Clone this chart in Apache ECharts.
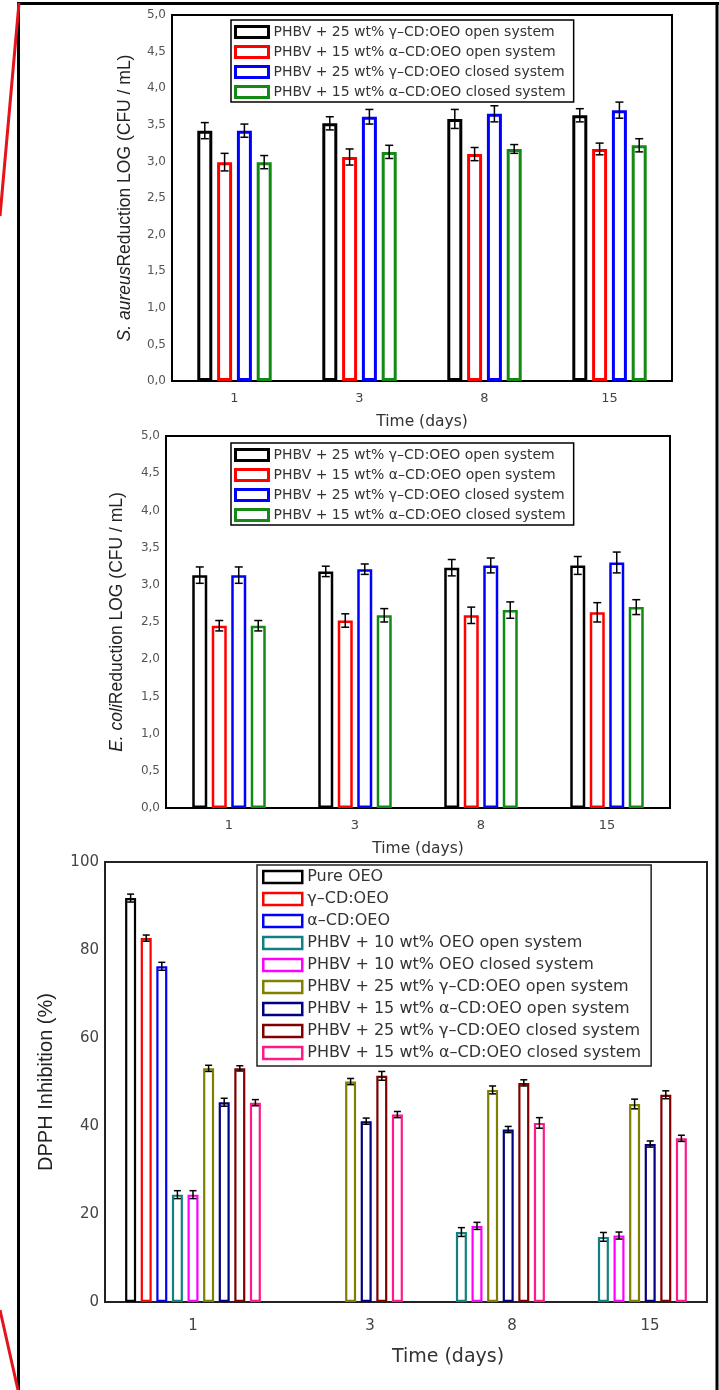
<!DOCTYPE html>
<html>
<head>
<meta charset="utf-8">
<script src="https://cdn.jsdelivr.net/npm/echarts@6/dist/echarts.min.js"></script>
<style>
  html, body { margin: 0; padding: 0; background: #fff; }
  #page { position: relative; width: 719px; height: 1390px; overflow: hidden; }
  .layer { position: absolute; left: 0; top: 0; width: 719px; height: 1390px; }
</style>
</head>
<body>
<div id="page">
  <svg class="layer" width="719" height="1390">
    <line x1="18.5" y1="2" x2="18.5" y2="1390" stroke="#000" stroke-width="3"/>
    <line x1="17" y1="3.5" x2="719" y2="3.5" stroke="#000" stroke-width="3"/>
    <line x1="717" y1="2" x2="717" y2="1390" stroke="#000" stroke-width="3"/>
    <line x1="19" y1="3" x2="0" y2="216" stroke="#e5141b" stroke-width="3"/>
    <line x1="0" y1="1310" x2="18" y2="1390" stroke="#e5141b" stroke-width="3"/>
  </svg>
  <div id="c1" class="layer"></div>
  <div id="c2" class="layer"></div>
  <div id="c3" class="layer"></div>
</div>
<script>
// ---- data ----
const days = ['1', '3', '8', '15'];

const bactNames = [
  'PHBV + 25 wt% γ–CD:OEO open system',
  'PHBV + 15 wt% α–CD:OEO open system',
  'PHBV + 25 wt% γ–CD:OEO closed system',
  'PHBV + 15 wt% α–CD:OEO closed system'
];
const bactColors = ['#000000', '#ff0000', '#0000ff', '#138a13'];

// S. aureus
const saGammaOpen = [3.42, 3.52, 3.58, 3.63];
const saGammaOpenErr = [0.11, 0.09, 0.13, 0.09];
const saAlphaOpen = [2.99, 3.06, 3.10, 3.17];
const saAlphaOpenErr = [0.12, 0.11, 0.09, 0.08];
const saGammaClosed = [3.42, 3.61, 3.65, 3.70];
const saGammaClosedErr = [0.09, 0.10, 0.11, 0.11];
const saAlphaClosed = [2.99, 3.13, 3.17, 3.22];
const saAlphaClosedErr = [0.09, 0.09, 0.06, 0.09];

// E. coli
const ecGammaOpen = [3.13, 3.18, 3.23, 3.26];
const ecGammaOpenErr = [0.11, 0.07, 0.11, 0.12];
const ecAlphaOpen = [2.45, 2.52, 2.59, 2.63];
const ecAlphaOpenErr = [0.07, 0.09, 0.11, 0.13];
const ecGammaClosed = [3.13, 3.21, 3.26, 3.30];
const ecGammaClosedErr = [0.11, 0.07, 0.10, 0.14];
const ecAlphaClosed = [2.45, 2.59, 2.66, 2.70];
const ecAlphaClosedErr = [0.07, 0.09, 0.11, 0.10];

// DPPH
const dpphNames = [
  'Pure OEO',
  'γ–CD:OEO',
  'α–CD:OEO',
  'PHBV + 10 wt% OEO open system',
  'PHBV + 10 wt% OEO closed system',
  'PHBV + 25 wt% γ–CD:OEO open system',
  'PHBV + 15 wt% α–CD:OEO open system',
  'PHBV + 25 wt% γ–CD:OEO closed system',
  'PHBV + 15 wt% α–CD:OEO closed system'
];
const dpphColors = ['#000000', '#ff0000', '#0000ff', '#128080', '#ff00ff',
  '#808000', '#000080', '#800000', '#ff1a8c'];
const pureOEO = [91.8, null, null, null];
const pureOEOErr = [0.9, null, null, null];
const gammaCD = [82.7, null, null, null];
const gammaCDErr = [0.7, null, null, null];
const alphaCD = [76.3, null, null, null];
const alphaCDErr = [0.9, null, null, null];
const oeoOpen = [24.4, null, 15.9, 14.8];
const oeoOpenErr = [0.9, null, 1.0, 1.0];
const oeoClosed = [24.4, null, 17.3, 15.1];
const oeoClosedErr = [0.9, null, 0.8, 0.8];
const gammaOpen = [53.1, 50.1, 48.2, 45.0];
const gammaOpenErr = [0.7, 0.7, 0.9, 1.1];
const alphaOpen = [45.4, 41.1, 39.2, 35.9];
const alphaOpenErr = [0.9, 0.7, 0.7, 0.7];
const gammaClosed = [53.1, 51.4, 49.8, 47.1];
const gammaClosedErr = [0.6, 1.0, 0.7, 0.9];
const alphaClosed = [45.3, 42.6, 40.7, 37.2];
const alphaClosedErr = [0.7, 0.7, 1.2, 0.7];

// ---- helpers ----
const WIDE = 'DejaVu Sans';
const ARIAL = 'Liberation Sans, Arial, sans-serif';

function barSeries(name, color, values, w, border, gap, axis) {
  return {
    name, type: 'bar', data: values, barWidth: w, barGap: gap,
    xAxisIndex: axis, yAxisIndex: axis,
    itemStyle: {color: '#fff', borderColor: color, borderWidth: border},
    emphasis: {disabled: true}, silent: true
  };
}

// I-beam error bars, shifted to the centre of bar idx of n
function errSeries(values, errs, idx, n, w, gap, cap, axis) {
  const data = [];
  values.forEach((v, i) => { if (v != null) data.push([i, v, errs[i]]); });
  return {
    type: 'custom', data, silent: true, z: 5,
    xAxisIndex: axis, yAxisIndex: axis,
    encode: {x: 0, y: 1},
    renderItem(params, api) {
      const c = api.value(0), v = api.value(1), e = api.value(2);
      const mid = api.coord([c, v]);
      const hi = api.coord([c, v + e])[1];
      const lo = api.coord([c, v - e])[1];
      const x = mid[0] + (idx - (n - 1) / 2) * w * (1 + gap);
      const st = {stroke: '#000', lineWidth: 1.5};
      return {type: 'group', children: [
        {type: 'line', shape: {x1: x, y1: hi, x2: x, y2: lo}, style: st},
        {type: 'line', shape: {x1: x - cap, y1: hi, x2: x + cap, y2: hi}, style: st},
        {type: 'line', shape: {x1: x - cap, y1: lo, x2: x + cap, y2: lo}, style: st}
      ]};
    }
  };
}

function bacteriaOption(cfg) {
  const w = 15, gap = cfg.gap;
  const series = [];
  cfg.values.forEach((vals, i) => {
    series.push(barSeries(bactNames[i], bactColors[i], vals, w, cfg.border, gap, 0));
  });
  cfg.values.forEach((vals, i) => {
    series.push(errSeries(vals, cfg.errors[i], i, 4, w, gap, 4, 0));
  });
  return {
    animation: false,
    grid: {left: cfg.left, top: cfg.top, width: cfg.width, height: cfg.height,
      show: true, borderColor: '#000', borderWidth: 2},
    legend: {
      orient: 'vertical', left: 231, top: cfg.legendTop,
      icon: 'rect', itemWidth: 33, itemHeight: 11, itemGap: 6,
      padding: [5, 8, 3, 3], borderColor: '#000', borderWidth: 1.5,
      itemStyle: {color: '#fff', borderWidth: 3},
      textStyle: {fontFamily: WIDE, fontSize: 14, color: '#333'},
      data: bactNames, selectedMode: false
    },
    xAxis: {
      type: 'category', data: days,
      axisLine: {show: false}, axisTick: {show: false},
      axisLabel: {margin: 11, fontFamily: WIDE, fontSize: 13, color: '#444'},
      name: 'Time (days)', nameLocation: 'middle', nameGap: 33,
      nameTextStyle: {fontFamily: WIDE, fontSize: 15.5, color: '#333'}
    },
    yAxis: {
      type: 'value', min: 0, max: 5, interval: 0.5,
      splitLine: {show: false}, axisLine: {show: false}, axisTick: {show: false},
      axisLabel: {margin: 6, fontFamily: WIDE, fontSize: 12, color: '#555',
        formatter: v => v.toFixed(1).replace('.', ',')},
      name: cfg.yName, nameLocation: 'middle', nameRotate: 90, nameGap: cfg.nameGap,
      nameTextStyle: {fontFamily: ARIAL, fontSize: 17.5, color: '#222',
        rich: {i: {fontFamily: ARIAL, fontSize: 17.5, color: '#222', fontStyle: 'italic'}}}
    },
    series
  };
}

// ---- chart 1: S. aureus ----
echarts.init(document.getElementById('c1')).setOption(bacteriaOption({
  left: 172, top: 15, width: 500, height: 366, legendTop: 20,
  border: 3, gap: 0.32, nameGap: 38,
  yName: '{i|S. aureus}Reduction LOG (CFU / mL)',
  values: [saGammaOpen, saAlphaOpen, saGammaClosed, saAlphaClosed],
  errors: [saGammaOpenErr, saAlphaOpenErr, saGammaClosedErr, saAlphaClosedErr]
}));

// ---- chart 2: E. coli ----
echarts.init(document.getElementById('c2')).setOption(bacteriaOption({
  left: 166, top: 436, width: 504, height: 372, legendTop: 443,
  border: 2.5, gap: 0.3, nameGap: 40,
  yName: '{i|E. coli}Reduction LOG (CFU / mL)',
  values: [ecGammaOpen, ecAlphaOpen, ecGammaClosed, ecAlphaClosed],
  errors: [ecGammaOpenErr, ecAlphaOpenErr, ecGammaClosedErr, ecAlphaClosedErr]
}));

// ---- chart 3: DPPH ----
const dpphValues = [pureOEO, gammaCD, alphaCD, oeoOpen, oeoClosed,
  gammaOpen, alphaOpen, gammaClosed, alphaClosed];
const dpphErrors = [pureOEOErr, gammaCDErr, alphaCDErr, oeoOpenErr, oeoClosedErr,
  gammaOpenErr, alphaOpenErr, gammaClosedErr, alphaClosedErr];
const w3 = 11, gap3 = 0.418;
const dpphSeries = [];
dpphValues.forEach((vals, i) => {
  dpphSeries.push(barSeries(dpphNames[i], dpphColors[i], vals, w3, 2.2, gap3, 1));
});
dpphValues.forEach((vals, i) => {
  dpphSeries.push(errSeries(vals, dpphErrors[i], i, 9, w3, gap3, 3.5, 1));
});
const labelRich = {};
[0, 70, 70, 62].forEach((p, i) => {
  labelRich['n' + i] = {fontFamily: WIDE, fontSize: 15, color: '#444', padding: [0, 0, 0, p]};
});

echarts.init(document.getElementById('c3')).setOption({
  animation: false,
  grid: [
    {left: 105, top: 862, width: 602, height: 440, show: true, borderColor: '#222', borderWidth: 2},
    {left: 122, top: 862, width: 568, height: 440}
  ],
  legend: {
    orient: 'vertical', left: 257, top: 865,
    icon: 'rect', itemWidth: 39, itemHeight: 12, itemGap: 6,
    padding: [4, 10, 5, 5], borderColor: '#222', borderWidth: 1.5,
    itemStyle: {color: '#fff', borderWidth: 2.5},
    textStyle: {fontFamily: WIDE, fontSize: 16, color: '#333'},
    data: dpphNames, selectedMode: false
  },
  xAxis: [
    {gridIndex: 0, type: 'category', data: days, show: false},
    {
      gridIndex: 1, type: 'category', data: days,
      axisLine: {show: false}, axisTick: {show: false},
      axisLabel: {margin: 17, fontFamily: WIDE, fontSize: 15, color: '#444',
        formatter: (v, i) => '{n' + i + '|' + v + '}', rich: labelRich},
      name: 'Time (days)', nameLocation: 'middle', nameGap: 46,
      nameTextStyle: {fontFamily: WIDE, fontSize: 19, color: '#333', padding: [0, 0, 0, 84]}
    }
  ],
  yAxis: [
    {
      gridIndex: 0, type: 'value', min: 0, max: 100, interval: 20,
      splitLine: {show: false}, axisLine: {show: false}, axisTick: {show: false},
      axisLabel: {margin: 6, fontFamily: WIDE, fontSize: 15, color: '#444'},
      name: 'DPPH Inhibition (%)', nameLocation: 'middle', nameRotate: 90, nameGap: 49,
      nameTextStyle: {fontFamily: ARIAL, fontSize: 20, color: '#222'}
    },
    {gridIndex: 1, type: 'value', min: 0, max: 100, interval: 20, show: false}
  ],
  series: dpphSeries
});
</script>
</body>
</html>
